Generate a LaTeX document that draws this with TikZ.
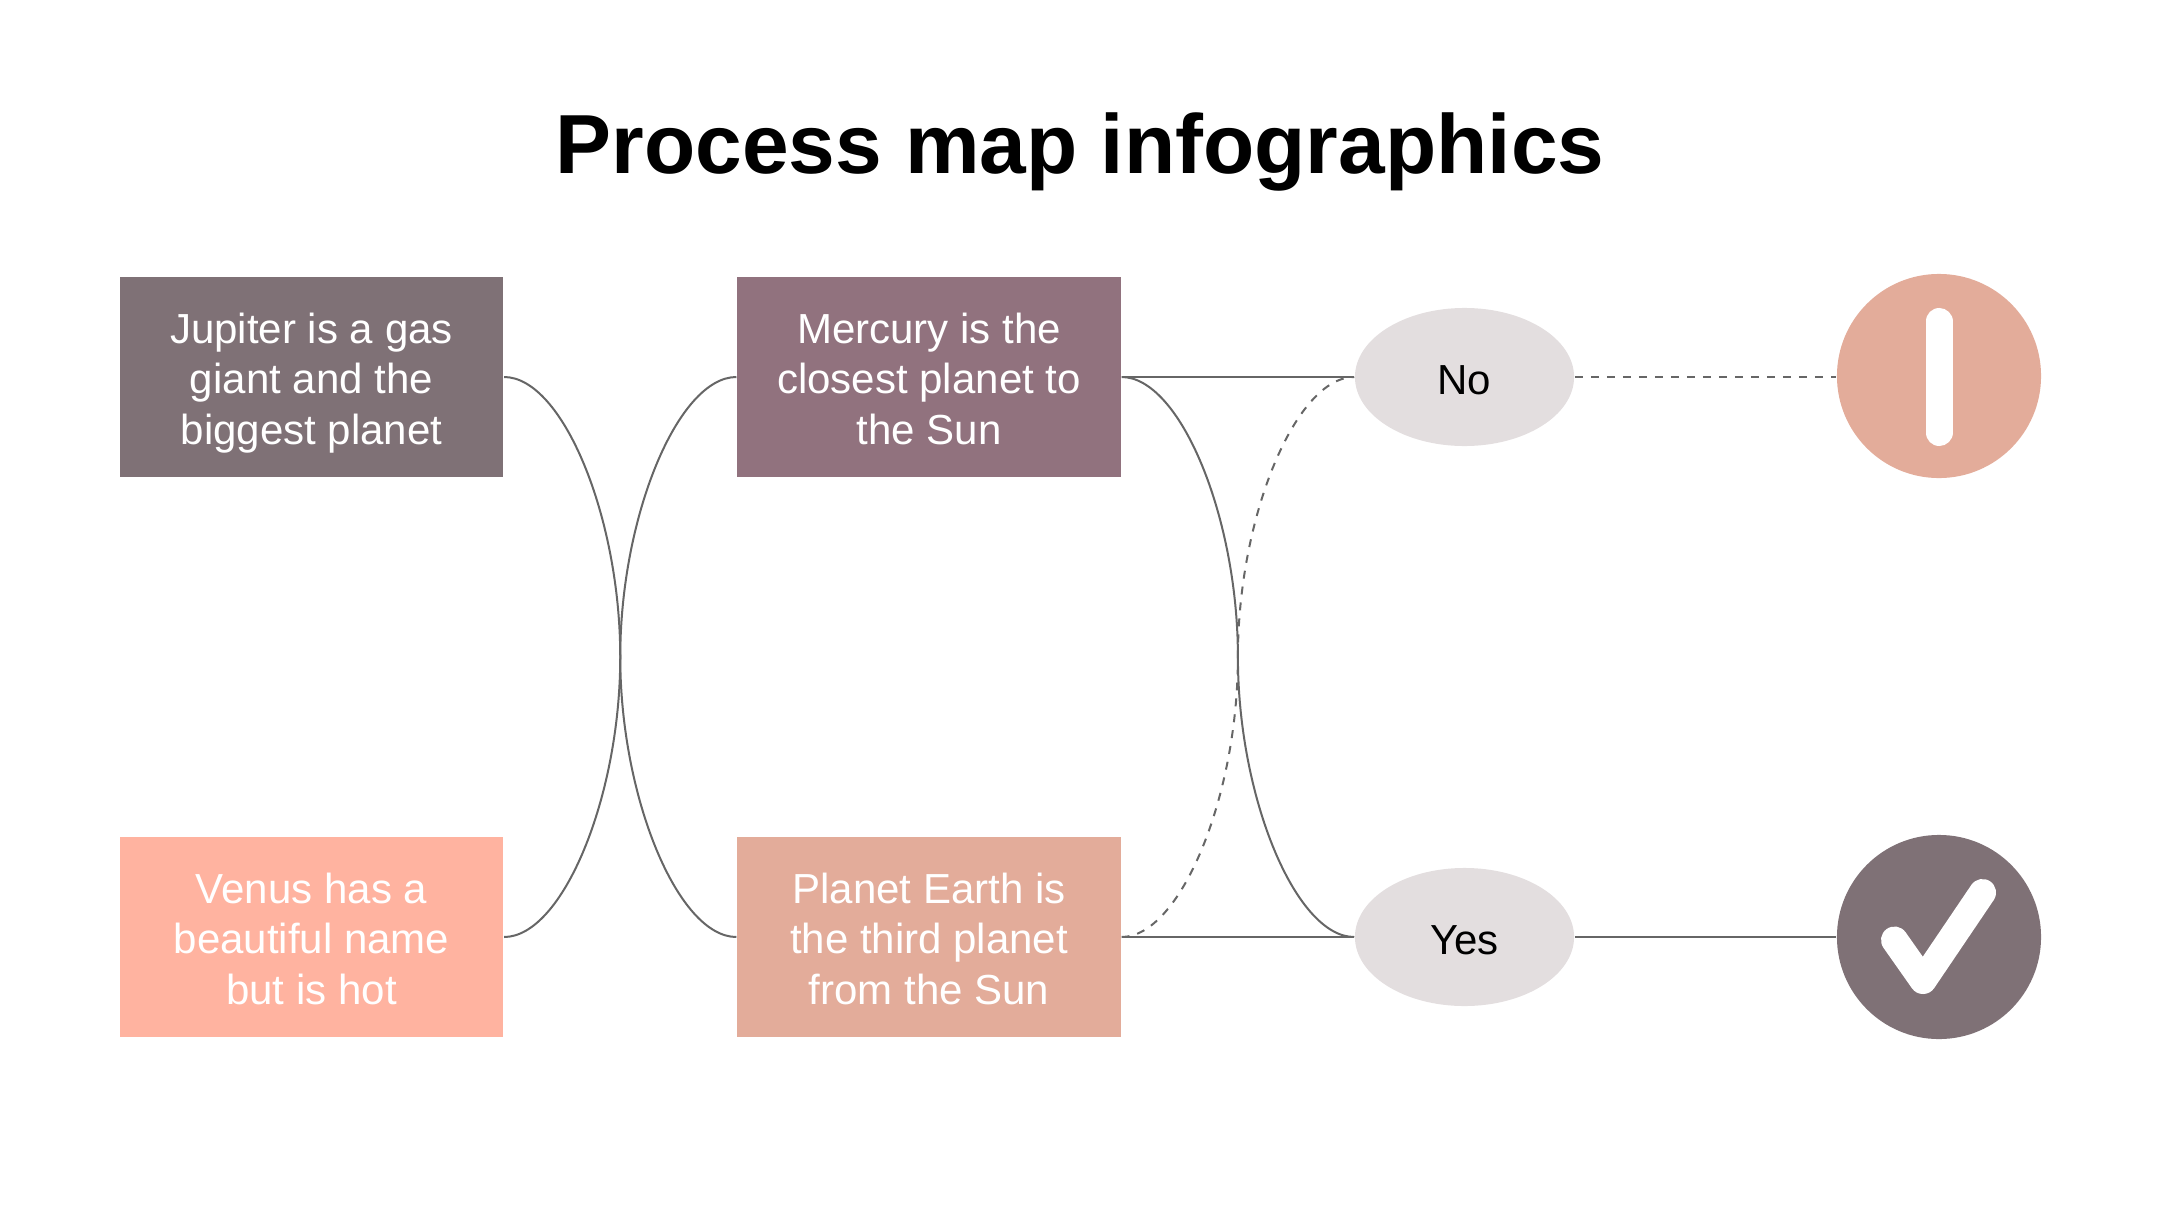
\documentclass[tikz,border=0pt]{standalone}
\usepackage{fontspec}
\setmainfont{Liberation Sans}
\usetikzlibrary{shapes.geometric,calc}
\definecolor{cinza}{HTML}{7F7176}
\definecolor{malva}{HTML}{91727E}
\definecolor{salmao}{HTML}{FFB3A0}
\definecolor{argila}{HTML}{E3AC9A}
\definecolor{nevoa}{HTML}{E3DEDF}
\definecolor{traco}{HTML}{666666}
\begin{document}
\begin{tikzpicture}[
    x=0.01cm,
    y=-0.01cm,
    every node/.style={font=\fontsize{11.95}{14.3}\selectfont},
    caixa/.style={minimum width=3.835cm, minimum height=2cm, inner sep=0pt, align=center, text=white, text height=1.34cm, text depth=0pt},
    balao/.style={ellipse, fill=nevoa, minimum width=2.19cm, minimum height=1.38cm, inner sep=0pt, text height=10pt, text depth=0pt},
    marca/.style={circle, minimum size=2.04cm, inner sep=0pt},
    ligacao/.style={draw=traco, line width=0.02cm},
    tracejada/.style={ligacao, dash pattern=on 0.08cm off 0.08cm},
    simbolo/.style={draw=white, line width=0.27cm, line cap=round, line join=round}
]

\useasboundingbox (0,0) rectangle (2160,1215);

% Titulo:
\node[font=\fontsize{23.85}{28}\selectfont\bfseries] (titulo) at (1080,152) {Process map infographics};

% Caixas da esquerda:
\node[caixa, fill=cinza] (jupiter) at (311.5,377) {Jupiter is a gas\\giant and the\\biggest planet};
\node[caixa, fill=salmao] (venus) at (311.5,937) {Venus has a\\beautiful name\\but is hot};

% Caixas do meio:
\node[caixa, fill=malva] (mercury) at (929,377) {Mercury is the\\closest planet to\\the Sun};
\node[caixa, fill=argila] (earth) at (929,937) {Planet Earth is\\the third planet\\from the Sun};

% Baloes de resposta:
\node[balao] (no) at (1464.5,377) {No};
\node[balao] (yes) at (1464.5,937) {Yes};

% Marcas finais:
\node[marca, fill=argila] (alerta) at (1939,376) {};
\node[marca, fill=cinza] (certo) at (1939,937) {};

\draw[simbolo] (1939,321.5) -- (1939,432.5);
\draw[simbolo] (1894.5,940) -- (1923,980.5) -- (1982.5,892.5);

% Pontos medios das curvas:
\coordinate (meioA) at ($(jupiter.east)!.5!(earth.west)$);
\coordinate (meioB) at ($(venus.east)!.5!(mercury.west)$);
\coordinate (meioC) at ($(mercury.east)!.5!(yes.west)$);
\coordinate (meioD) at ($(earth.east)!.5!(no.west)$);

% Curvas entre as caixas:
\draw[ligacao] (jupiter.east) .. controls +(58.5,0) and +(0,-140) .. (meioA) .. controls +(0,140) and +(-58.5,0) .. (earth.west);
\draw[ligacao] (venus.east) .. controls +(58.5,0) and +(0,140) .. (meioB) .. controls +(0,-140) and +(-58.5,0) .. (mercury.west);

% Curvas e retas ate os baloes:
\draw[ligacao] (mercury.east) .. controls +(58.5,0) and +(0,-140) .. (meioC) .. controls +(0,140) and +(-58.5,0) .. (yes.west);
\draw[tracejada] (earth.east) .. controls +(58.5,0) and +(0,140) .. (meioD) .. controls +(0,-140) and +(-58.5,0) .. (no.west);
\draw[ligacao] (mercury.east) -- (no.west);
\draw[ligacao] (earth.east) -- (yes.west);

% Saidas para as marcas:
\draw[tracejada] (no.east) -- (no.east -| alerta.west);
\draw[ligacao] (yes.east) -- (certo.west);

\end{tikzpicture}
\end{document}
